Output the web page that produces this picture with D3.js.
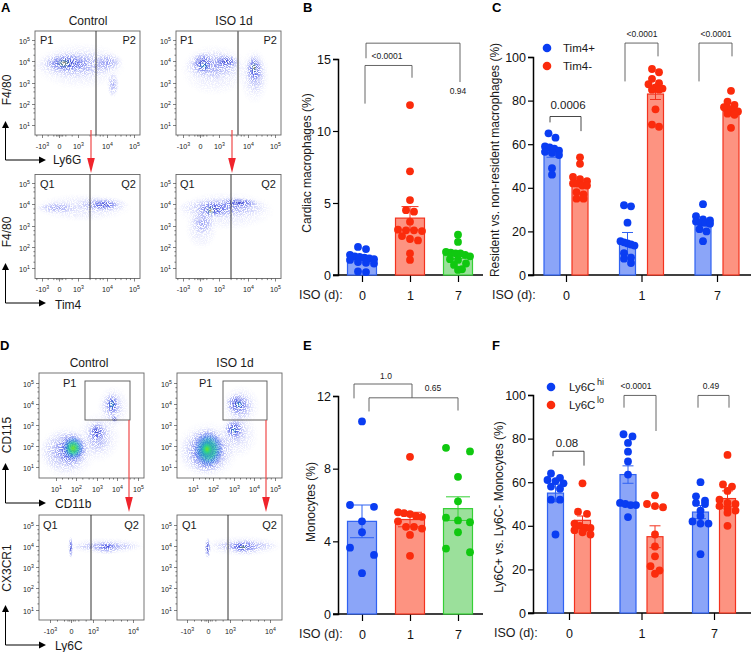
<!DOCTYPE html>
<html>
<head>
<meta charset="utf-8">
<script src="https://cdn.jsdelivr.net/npm/d3@7"></script>
<style>
  html, body { margin: 0; padding: 0; background: #fff; }
  svg { display: block; font-family: "Liberation Sans", Arial, sans-serif; }
</style>
</head>
<body>
<div id="chart"></div>
<script>
// bar chart data
const days = ['0', '1', '7']

const bDots = [
  [1.95, 1.8, 1.4, 1.3, 1.25, 1.2, 1.15, 1.1, 1.05, 0.9, 0.85, 0.8, 0.25, 0.2],
  [11.8, 7.2, 5.2, 4.5, 4.4, 3.7, 3.15, 3.1, 3.1, 3.05, 2.7, 2.5, 2.4, 1.5, 1.05],
  [2.8, 2.3, 1.6, 1.55, 1.5, 1.5, 1.4, 1.3, 1.1, 1.05, 0.8, 0.7, 0.4, 0.35]
]
const bMeans = [1.15, 3.95, 1.35]
const bErrors = [0.12, 0.8, 0.2]

const cTim4Pos = [
  [65, 63, 59, 58.5, 58, 57, 56.5, 56, 55, 49, 46],
  [32, 31.5, 24, 15.5, 15, 14.5, 14, 13.5, 10, 8, 7.5, 5.5],
  [32.5, 27, 25.5, 25, 24.5, 24, 24, 23.5, 21, 20, 15.5]
]
const cTim4Neg = [
  [54, 51, 45, 44, 43, 42, 42, 41, 41, 38, 37, 35, 35],
  [94.5, 93, 90, 88, 87.5, 86, 85.5, 85, 85, 76, 69, 68],
  [84.5, 79.5, 78, 77, 76.5, 76, 75.5, 75, 74, 73.5, 67.5]
]
const cPosMeans = [56, 14.5, 24]
const cPosErrors = [2, 5, 1.5]
const cNegMeans = [42, 83, 75]
const cNegErrors = [1.5, 2.5, 1.5]

const eDots = [
  [10.6, 6.0, 5.9, 5.1, 4.5, 3.65, 3.25, 2.25],
  [8.65, 5.6, 5.55, 5.5, 5.4, 5.35, 5.1, 4.8, 4.8, 4.7, 4.35, 3.2],
  [9.15, 8.95, 7.55, 6.2, 5.3, 5.15, 5.05, 4.5, 3.6, 3.4]
]
const eMeans = [5.1, 5.2, 5.8]
const eErrors = [0.9, 0.4, 0.65]

const fLy6cHi = [
  [64, 62, 61, 60.5, 59.5, 58, 57, 52, 52, 36],
  [82, 81, 78, 74, 69.5, 63.5, 50.5, 50, 49.5, 49.5, 44],
  [60, 53.5, 51.5, 50.5, 50, 47, 44.5, 42, 41, 41, 27]
]
const fLy6cLo = [
  [59.5, 46.5, 45.5, 41, 40, 39, 39, 38, 37, 36],
  [54, 50, 49, 48.5, 36, 30.5, 26, 21.5, 19.5, 18],
  [72.5, 59, 58, 56, 52, 50.5, 50, 49, 48, 47, 46, 40]
]
const fHiMeans = [55, 63.5, 46.3]
const fHiErrors = [4, 4, 3]
const fLoMeans = [42.5, 35, 52.5]
const fLoErrors = [2, 5, 3.5]

// cytometry density clouds, axis units: [x from, x to, y from, y to, kind]
const aTopLeft = [
  [-4.4, 4.7, 2.7, 4.9, 'faint'], [-4.2, 4.4, 3.2, 4.5, 'sparse'], [3.5, 4.6, 3.5, 4.4, 'sparse'],
  [4, 4.45, 2.3, 3.5, 'sparse'], [-2.6, 3.4, 3.5, 4.35, 'mid'], [-0.6, 2.1, 3.65, 4.15, 'warm']
]
const aTopRight = [
  [-3.4, 4, 2.4, 4.8, 'faint'], [3.7, 4.8, 2, 4.6, 'faint'], [-2.8, 3.8, 3.1, 4.5, 'sparse'],
  [3.9, 4.65, 2.5, 4.4, 'sparse'], [-1.4, 2.1, 3.4, 4.4, 'mid'], [2, 3.7, 3.65, 4.3, 'mid'],
  [3.95, 4.5, 3.05, 4.25, 'mid'], [4.1, 4.35, 3.4, 4, 'warm'], [-0.4, 1.5, 3.55, 4, 'teal']
]
const aBotLeft = [
  [-4.2, 4.9, 3.2, 4.5, 'faint'], [-4, 3, 3.55, 4.1, 'sparse'], [2.6, 4.8, 3.6, 4.35, 'sparse'],
  [3.4, 4.4, 3.75, 4.2, 'mid']
]
const aBotRight = [
  [-4.2, 5, 2.8, 4.6, 'faint'], [-2.6, 2.8, 1.9, 3.8, 'faint'], [-4, 4.8, 3.35, 4.35, 'sparse'],
  [-1.6, 2.2, 2.6, 3.7, 'sparse'], [-0.6, 3.4, 3.4, 4.15, 'mid'], [3, 4.4, 3.8, 4.3, 'mid'],
  [1, 2.4, 3.45, 3.95, 'warm']
]
const dTopLeft = [
  [0.1, 3, 0.4, 3, 'faint'], [2, 4.2, 1.2, 3.6, 'faint'], [3, 4.6, 2.8, 4.9, 'faint'],
  [0.2, 2.7, 0.7, 2.8, 'sparse'], [2.4, 3.7, 1.6, 3.3, 'sparse'], [3.2, 4.3, 3.2, 4.6, 'sparse'],
  [0.9, 2.6, 1, 2.7, 'mid'], [1.3, 2.4, 1.3, 2.5, 'hot'], [2.6, 3.4, 2.2, 3.1, 'mid'],
  [3.45, 4.05, 3.5, 4.45, 'mid'], [3.55, 3.95, 3.7, 4.25, 'teal'], [3.7, 4.05, 3.1, 3.45, 'mid']
]
const dTopRight = [
  [0.1, 3.3, 0.4, 3.2, 'faint'], [2.2, 4.2, 1.4, 3.6, 'faint'], [2.4, 4.3, 2.9, 4.9, 'faint'],
  [0.3, 3, 0.6, 2.9, 'sparse'], [2.5, 3.7, 2, 3.4, 'sparse'], [2.7, 4, 3.2, 4.6, 'sparse'],
  [0.7, 2.7, 0.7, 2.9, 'mid'], [1, 2.5, 0.95, 2.7, 'hot'], [1.3, 2.1, 1.4, 2.3, 'hot'],
  [2.55, 3.45, 2.4, 3.2, 'mid'], [2.8, 3.2, 2.55, 2.95, 'teal'],
  [2.6, 3.7, 3.5, 4.5, 'mid'], [3, 3.5, 3.75, 4.2, 'teal']
]
const dBotLeft = [
  [-0.4, 0.3, 3.4, 4.45, 'mid'], [-0.6, 4.3, 3.6, 4.4, 'faint'], [0, 4.2, 3.75, 4.2, 'sparse'],
  [2.9, 3.7, 3.6, 4.25, 'sparse'], [3.15, 3.55, 3.85, 4.1, 'mid']
]
const dBotRight = [
  [-0.5, 0.4, 3.4, 4.4, 'mid'], [-0.6, 4.3, 3.5, 4.5, 'faint'], [0.4, 4.2, 3.75, 4.25, 'sparse'],
  [2.8, 3.8, 3.55, 4.35, 'sparse'], [3, 3.6, 3.7, 4.2, 'mid'], [3.2, 3.45, 3.85, 4.05, 'warm']
]

// cytometry axes
const biexTicks = [-3, 0, 3, 4, 5]
const biexMinor = [-4, -2, -1, -0.5, -0.25, 0.25, 0.5, 1, 2, 3.4, 3.6, 3.75, 3.85, 4.3, 4.5, 4.7, 4.85]
const logTicks = [1, 2, 3, 4, 5]
const logMinor = [1.3, 1.6, 1.8, 2.3, 2.6, 2.8, 3.3, 3.6, 3.8, 4.3, 4.6, 4.8]
const ly6cTicks = [-3, 0, 3, 4]
const ly6cMinor = [-2, -1, -0.5, -0.25, 0.25, 0.5, 1, 2, 3.3, 3.5, 3.7, 3.85]

const W = 751
const H = 652
const svg = d3.select('#chart').append('svg').attr('width', W).attr('height', H)
svg.append('rect').attr('width', W).attr('height', H).attr('fill', '#fff')
const defs = svg.append('defs')

function gradient (id, stops) {
  const g = defs.append('radialGradient').attr('id', id)
  stops.forEach(s => g.append('stop')
    .attr('offset', s[0]).attr('stop-color', s[1]).attr('stop-opacity', s[2]))
}
gradient('faint', [[0, '#8f96f5', 0.3], [0.6, '#a0a6f6', 0.18], [1, '#b0b5f8', 0]])
gradient('sparse', [[0, '#5560ec', 0.55], [0.5, '#6a74f0', 0.32], [1, '#8a92f5', 0]])
gradient('mid', [[0, '#2630c4', 0.85], [0.5, '#3a48e4', 0.5], [1, '#6070f0', 0]])
gradient('teal', [[0, '#22a8b0', 0.85], [0.6, '#2060c8', 0.45], [1, '#2040d0', 0]])
gradient('warm', [[0, '#e0a040', 0.85], [0.4, '#50a080', 0.55], [1, '#2040d0', 0]])
gradient('hot', [[0, '#6fe428', 1], [0.4, '#24cc9c', 0.8], [0.72, '#2a80e4', 0.42], [1, '#3050f0', 0]])

const speckle = defs.append('filter').attr('id', 'speckle')
  .attr('x', 0).attr('y', 0).attr('width', 1).attr('height', 1)
speckle.append('feTurbulence').attr('type', 'fractalNoise')
  .attr('baseFrequency', 0.95).attr('numOctaves', 2).attr('seed', 4).attr('result', 'n')
speckle.append('feColorMatrix').attr('in', 'n').attr('type', 'matrix')
  .attr('values', '0 0 0 0 0  0 0 0 0 0  0 0 0 0 0  5 0 0 0 -1.9').attr('result', 'a')
speckle.append('feComposite').attr('in', 'SourceGraphic').attr('in2', 'a').attr('operator', 'in').attr('result', 'c')
speckle.append('feGaussianBlur').attr('in', 'c').attr('stdDeviation', 0.35)

function powerLabel (sel, fs) {
  sel.each(function (d) {
    const t = d3.select(this)
    t.text('')
    if (d === 0) {
      t.append('tspan').attr('font-size', fs).text('0')
      return
    }
    t.append('tspan').attr('font-size', fs).text(d < 0 ? '-10' : '10')
    t.append('tspan').attr('font-size', fs - 2).attr('dy', -3).text(Math.abs(d))
  })
}

let clipId = 0
function flowPanel (o) {
  const x = d3.scaleLinear().domain(o.xDomain).range(o.xRange.map(v => v + o.dx))
  const y = d3.scaleLinear().domain(o.yDomain).range(o.yRange)
  const g = svg.append('g')
  const id = 'clip' + clipId++
  defs.append('clipPath').attr('id', id).append('rect')
    .attr('x', o.left).attr('y', o.top).attr('width', o.w).attr('height', o.h)
  const plot = g.append('g').attr('clip-path', `url(#${id})`)
  const soft = plot.append('g').attr('filter', 'url(#speckle)')
  const solid = plot.append('g')
  o.clouds.forEach(c => {
    const target = c[4] === 'hot' ? solid : soft
    target.append('ellipse')
      .attr('cx', (x(c[0]) + x(c[1])) / 2)
      .attr('cy', (y(c[2]) + y(c[3])) / 2)
      .attr('rx', Math.abs(x(c[1]) - x(c[0])) / 2)
      .attr('ry', Math.abs(y(c[3]) - y(c[2])) / 2)
      .attr('fill', `url(#${c[4]})`)
  })
  g.append('rect').attr('x', o.left).attr('y', o.top).attr('width', o.w).attr('height', o.h)
    .attr('fill', 'none').attr('stroke', '#666').attr('stroke-width', 0.9)

  const bottom = g.append('g').attr('transform', `translate(0,${o.top + o.h})`)
    .call(d3.axisBottom(x).tickValues(o.xTicks).tickSize(3).tickPadding(3.5).tickFormat(d => d))
  const left = g.append('g').attr('transform', `translate(${o.left},0)`)
    .call(d3.axisLeft(y).tickValues(o.yTicks).tickSize(3).tickPadding(2).tickFormat(d => d))
  g.append('g').attr('transform', `translate(0,${o.top + o.h})`)
    .call(d3.axisBottom(x).tickValues(o.xMinor).tickSize(1.6).tickFormat(''))
  g.append('g').attr('transform', `translate(${o.left},0)`)
    .call(d3.axisLeft(y).tickValues(o.yMinor).tickSize(1.6).tickFormat(''))
  g.selectAll('.domain').remove()
  g.selectAll('.tick line').attr('stroke', '#333').attr('stroke-width', 0.6)
  bottom.selectAll('text').attr('fill', '#222').call(powerLabel, 7.2)
  left.selectAll('text').attr('fill', '#222').call(powerLabel, 7.2)

  if (o.gateX) {
    g.append('line').attr('x1', o.gateX).attr('x2', o.gateX).attr('y1', o.top).attr('y2', o.top + o.h)
      .attr('stroke', o.gateColor || '#333').attr('stroke-width', o.gateWidth || 1)
  }
  if (o.gateBox) {
    g.append('rect').attr('x', o.gateBox[0]).attr('y', o.gateBox[1])
      .attr('width', o.gateBox[2]).attr('height', o.gateBox[3])
      .attr('fill', 'none').attr('stroke', '#555').attr('stroke-width', 0.9)
  }
  o.labels.forEach(l => {
    g.append('text').attr('x', l[0]).attr('y', l[1]).attr('text-anchor', l[3] || 'start')
      .attr('font-size', 11).attr('fill', '#1a1a1a').text(l[2])
  })
}

const aX = { xDomain: biexTicks, xRange: [42, 59, 78, 107, 134], xTicks: biexTicks, xMinor: biexMinor, yTicks: logTicks, yMinor: logMinor, w: 105, h: 104 }
const aYTop = { yDomain: [5, 4, 3, 2, 1], yRange: [40, 61, 83, 104, 125] }
const aYBot = { yDomain: [5, 4, 3, 2, 1], yRange: [183, 204, 226, 247, 268] }
flowPanel({ ...aX, ...aYTop, dx: 0, left: 35, top: 31, clouds: aTopLeft, gateX: 96, labels: [[40, 44, 'P1'], [136, 44, 'P2', 'end']] })
flowPanel({ ...aX, ...aYTop, dx: 141, left: 176, top: 31, clouds: aTopRight, gateX: 238, gateColor: '#777', gateWidth: 1.6, labels: [[180, 44, 'P1'], [277, 44, 'P2', 'end']] })
flowPanel({ ...aX, ...aYBot, dx: 0, left: 35, top: 174.5, clouds: aBotLeft, gateX: 90, labels: [[40, 188, 'Q1'], [136, 188, 'Q2', 'end']] })
flowPanel({ ...aX, ...aYBot, dx: 141, left: 176, top: 174.5, clouds: aBotRight, gateX: 231, labels: [[180, 188, 'Q1'], [276, 188, 'Q2', 'end']] })

const dLog = { xDomain: logTicks, xRange: [56, 76, 97, 117, 138], xTicks: logTicks, xMinor: logMinor, yDomain: [5, 4, 3, 2, 1], yRange: [383, 404, 425, 446, 467], yTicks: logTicks, yMinor: logMinor, w: 105, h: 105 }
const dBi = { xDomain: ly6cTicks, xRange: [50, 71, 93, 133], xTicks: ly6cTicks, xMinor: ly6cMinor, yDomain: [5, 4, 3, 2, 1], yRange: [525, 546, 567, 588, 610], yTicks: logTicks, yMinor: logMinor, w: 105, h: 105 }
flowPanel({ ...dLog, dx: 0, left: 39, top: 373, clouds: dTopLeft, gateBox: [85, 381, 45, 39], labels: [[63, 387, 'P1']] })
flowPanel({ ...dLog, dx: 137, left: 177, top: 373, clouds: dTopRight, gateBox: [223, 381, 44, 39], labels: [[199, 387, 'P1']] })
flowPanel({ ...dBi, dx: 0, left: 39, top: 515, clouds: dBotLeft, gateX: 91, labels: [[43, 529, 'Q1'], [139, 529, 'Q2', 'end']] })
flowPanel({ ...dBi, dx: 137, left: 177, top: 515, clouds: dBotRight, gateX: 228, labels: [[182, 529, 'Q1'], [277, 529, 'Q2', 'end']] })

function text (x, y, s, size, anchor, rotate) {
  const t = svg.append('text').attr('font-size', size).attr('fill', '#1a1a1a')
    .attr('text-anchor', anchor || 'start').text(s)
  if (rotate) t.attr('transform', `translate(${x},${y}) rotate(-90)`)
  else t.attr('x', x).attr('y', y)
  return t
}

// panel letters
;[['A', 1, 12], ['B', 303, 12], ['C', 492, 12], ['D', 0, 350], ['E', 303, 350], ['F', 492, 350]].forEach(l => {
  text(l[1], l[2], l[0], 13, 'start').attr('font-weight', 'bold').attr('fill', '#000')
})

// flow titles and axis names
text(88, 25, 'Control', 12, 'middle')
text(234, 25, 'ISO 1d', 12, 'middle')
text(89, 367, 'Control', 12, 'middle')
text(235, 367, 'ISO 1d', 12, 'middle')
text(10.5, 90, 'F4/80', 12, 'middle', true)
text(10.5, 232, 'F4/80', 12, 'middle', true)
text(10.5, 435, 'CD115', 12, 'middle', true)
text(10.5, 568, 'CX3CR1', 12, 'middle', true)
text(53, 164, 'Ly6G', 12)
text(55, 309, 'Tim4', 12)
text(55, 508, 'CD11b', 12)
text(55, 650, 'Ly6C', 12)

function axisArrows (x0, y0, top, right) {
  svg.append('path').attr('d', `M${x0},${top + 6}V${y0}H${right - 6}`)
    .attr('fill', 'none').attr('stroke', '#000').attr('stroke-width', 1)
  svg.append('path').attr('d', `M${x0 - 3.5},${top + 7}L${x0},${top}L${x0 + 3.5},${top + 7}Z`).attr('fill', '#000')
  svg.append('path').attr('d', `M${right - 7},${y0 - 3.5}L${right},${y0}L${right - 7},${y0 + 3.5}Z`).attr('fill', '#000')
}
axisArrows(5.5, 160, 121, 46)
axisArrows(5.5, 303, 263, 46)
axisArrows(5.5, 503, 463, 46)
axisArrows(5.5, 645, 605, 46)

function redArrow (x, y1, y2) {
  svg.append('line').attr('x1', x).attr('x2', x).attr('y1', y1).attr('y2', y2 - 10)
    .attr('stroke', '#f04848').attr('stroke-width', 1.2)
  svg.append('path').attr('d', `M${x - 3.8},${y2 - 15}L${x + 3.8},${y2 - 15}L${x},${y2}Z`).attr('fill', '#f0242c')
}
redArrow(91, 130, 173)
redArrow(232, 130, 173)
redArrow(129, 420, 512)
redArrow(266, 420, 512)

const seriesColors = {
  blue: { dot: '#0a3df2', fill: '#8ba5f8', line: '#2f62f2' },
  red: { dot: '#fb2b0c', fill: '#fd9381', line: '#f3321e' },
  green: { dot: '#10c810', fill: '#9be09b', line: '#35d035' }
}

// greedy vertical bins, then points in a bin spread side by side
function spreadDots (vals, y, binH, gap, maxW) {
  const sorted = vals.slice().sort((a, b) => b - a)
  const bins = []
  sorted.forEach(v => {
    const last = bins[bins.length - 1]
    if (last && y(v) - y(last[0]) <= binH) last.push(v)
    else bins.push([v])
  })
  const out = []
  bins.forEach(bin => {
    const step = bin.length > 1 ? Math.min(gap, 2 * maxW / (bin.length - 1)) : 0
    bin.forEach((v, i) => out.push({ v, dx: (i - (bin.length - 1) / 2) * step }))
  })
  return out
}

function barGroup (g, cx, y, mean, err, dots, color, barW, opts) {
  const c = seriesColors[color]
  g.append('rect').attr('x', cx - barW / 2).attr('y', y(mean))
    .attr('width', barW).attr('height', y(0) - y(mean))
    .attr('fill', c.fill).attr('stroke', c.line).attr('stroke-width', 1.2)
  g.append('path')
    .attr('d', `M${cx},${y(mean - err)}V${y(mean + err)}M${cx - opts.cap},${y(mean + err)}H${cx + opts.cap}M${cx - opts.cap},${y(mean - err)}H${cx + opts.cap}`)
    .attr('fill', 'none').attr('stroke', c.line).attr('stroke-width', 1)
  g.selectAll(null).data(spreadDots(dots, y, opts.binH, opts.gap, opts.maxW)).enter()
    .append('circle')
    .attr('cx', d => cx + d.dx).attr('cy', d => y(d.v)).attr('r', opts.r).attr('fill', c.dot)
}

function frame (o) {
  const y = d3.scaleLinear().domain(o.yDomain).range(o.yRange)
  const x = d3.scalePoint().domain(days).range(o.xRange)
  const g = svg.append('g')
  const ax = g.append('g').attr('transform', `translate(${o.axisX},0)`)
    .call(d3.axisLeft(y).tickValues(o.yTicks).tickSize(5).tickPadding(2))
  const bx = g.append('g').attr('transform', `translate(0,${y(0)})`)
    .call(d3.axisBottom(x).tickSize(7).tickPadding(9).tickFormat(d => d))
  bx.select('.domain').remove()
  ax.select('.domain').attr('stroke', '#000').attr('stroke-width', 1.5)
  g.selectAll('.tick line').attr('stroke', '#000').attr('stroke-width', 1.2)
  g.selectAll('.tick text').attr('font-size', 12.5).attr('font-family', 'Liberation Sans').attr('fill', '#111')
  g.append('line').attr('x1', o.axisX - 5).attr('x2', o.axisEnd).attr('y1', y(0)).attr('y2', y(0))
    .attr('stroke', '#000').attr('stroke-width', 1.5)
  text(o.isoX, y(0) + 24, 'ISO (d):', 12.5)
  return { x, y, g }
}

function bracket (y, x1, yl, yt, x2, yr, color) {
  svg.append('path').attr('d', `M${x1},${y(yl)}V${y(yt)}H${x2}V${y(yr)}`)
    .attr('fill', 'none').attr('stroke', color || '#555').attr('stroke-width', 0.9)
}

// B
const b = frame({ yDomain: [0, 15], yRange: [275, 59], yTicks: [0, 5, 10, 15], xRange: [362, 458], axisX: 338, axisEnd: 483, isoX: 299 })
const singleOpts = { r: 3.9, cap: 8.5, binH: 4.5, gap: 8, maxW: 12 }
days.forEach((d, i) => {
  barGroup(b.g, b.x(d), b.y, bMeans[i], bErrors[i], bDots[i], ['blue', 'red', 'green'][i], 29, singleOpts)
})
text(311, 163, 'Cardiac macrophages (%)', 12, 'middle', true)
bracket(b.y, 365, 11.9, 14.55, 412, 13.7)
bracket(b.y, 366, 15.05, 16.1, 460, 13.4)
text(387, 59, '<0.0001', 8.5, 'middle')
text(458, 94, '0.94', 8.5, 'middle')

// C
const c = frame({ yDomain: [0, 100], yRange: [275, 57], yTicks: [0, 20, 40, 60, 80, 100], xRange: [566, 717], axisX: 533, axisEnd: 751, isoX: 492 })
const pairOpts = { r: 3.9, cap: 5.5, binH: 5, gap: 7, maxW: 7 }
days.forEach((d, i) => {
  barGroup(c.g, c.x(d) - 14, c.y, cPosMeans[i], cPosErrors[i], cTim4Pos[i], 'blue', 16, pairOpts)
  barGroup(c.g, c.x(d) + 14, c.y, cNegMeans[i], cNegErrors[i], cTim4Neg[i], 'red', 16, pairOpts)
})
text(499, 160, 'Resident vs. non-resident macrophages (%)', 12, 'middle', true)
bracket(c.y, 550, 70, 72.7, 581, 66, '#333')
bracket(c.y, 625, 88.8, 106.4, 658, 100.3)
bracket(c.y, 699, 88.8, 106.4, 732, 100.3)
text(568, 109, '0.0006', 11.5, 'middle')
text(642, 37, '<0.0001', 8.5, 'middle')
text(716, 37, '<0.0001', 8.5, 'middle')
svg.append('circle').attr('cx', 547).attr('cy', 48).attr('r', 4.3).attr('fill', seriesColors.blue.dot)
svg.append('circle').attr('cx', 547).attr('cy', 66).attr('r', 4.3).attr('fill', seriesColors.red.dot)
text(563, 52, 'Tim4+', 11.5)
text(563, 70, 'Tim4-', 11.5)

// E
const e = frame({ yDomain: [0, 12], yRange: [614, 396], yTicks: [0, 4, 8, 12], xRange: [362, 458], axisX: 338, axisEnd: 483, isoX: 299 })
const wideOpts = { r: 3.9, cap: 12, binH: 7.5, gap: 24, maxW: 12 }
days.forEach((d, i) => {
  barGroup(e.g, e.x(d), e.y, eMeans[i], eErrors[i], eDots[i], ['blue', 'red', 'green'][i], 29, wideOpts)
})
text(315, 502, 'Monocytes (%)', 12, 'middle', true)
bracket(e.y, 354, 11.87, 12.66, 412, 11.9)
bracket(e.y, 369, 11.15, 11.9, 458, 11.2)
text(386, 379, '1.0', 8.5, 'middle')
text(433, 391, '0.65', 8.5, 'middle')

// F
const f = frame({ yDomain: [0, 100], yRange: [613, 395], yTicks: [0, 20, 40, 60, 80, 100], xRange: [569, 714], axisX: 533, axisEnd: 751, isoX: 494 })
const pairOptsF = { r: 3.9, cap: 5.5, binH: 5, gap: 9, maxW: 8 }
days.forEach((d, i) => {
  barGroup(f.g, f.x(d) - 13.5, f.y, fHiMeans[i], fHiErrors[i], fLy6cHi[i], 'blue', 16, pairOptsF)
  barGroup(f.g, f.x(d) + 13.5, f.y, fLoMeans[i], fLoErrors[i], fLy6cLo[i], 'red', 16, pairOptsF)
})
text(503, 507, 'Ly6C+ vs. Ly6C- Monocytes (%)', 12, 'middle', true)
bracket(f.y, 553, 71.9, 74.2, 584, 67.6, '#333')
bracket(f.y, 624, 94.2, 99.8, 656, 83.5)
bracket(f.y, 698, 94.2, 99.8, 729, 94.2)
text(567, 447, '0.08', 11.5, 'middle')
text(636, 389, '<0.0001', 8.5, 'middle')
text(711, 389, '0.49', 8.5, 'middle')
svg.append('circle').attr('cx', 551).attr('cy', 387).attr('r', 4.3).attr('fill', seriesColors.blue.dot)
svg.append('circle').attr('cx', 551).attr('cy', 405).attr('r', 4.3).attr('fill', seriesColors.red.dot)
text(569, 391, 'Ly6C', 11.5)
text(597, 385, 'hi', 9)
text(569, 409, 'Ly6C', 11.5)
text(597, 403, 'lo', 9)
</script>
</body>
</html>
